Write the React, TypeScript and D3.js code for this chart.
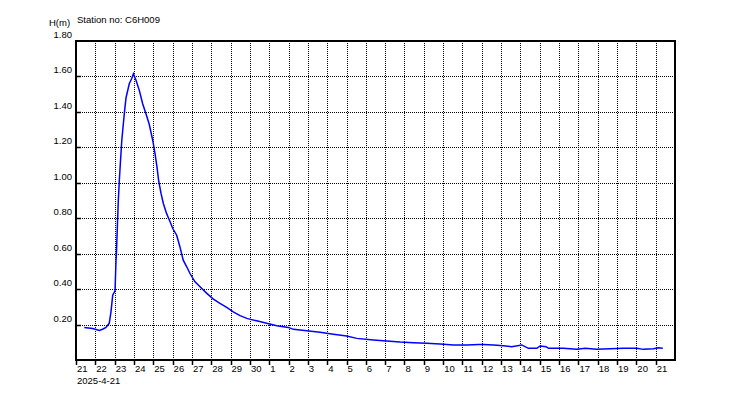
import React from "react";
import * as d3 from "d3";

const stationTitle = "Station no: C6H009";
const yAxisTitle = "H(m)";
const startDateLabel = "2025-4-21";

// days since 2025-04-21 00:00
const dayOffsets = [
  0.43, 0.86, 1.21, 1.4, 1.55, 1.72, 1.81, 1.9, 2.02, 2.07, 2.09, 2.14, 2.19, 2.24, 2.29,
  2.37, 2.5, 2.59, 2.76, 2.88, 2.97, 3.11, 3.28, 3.45, 3.62, 3.79, 3.97, 4.09, 4.19, 4.28,
  4.4, 4.52, 4.69, 4.83, 5.01, 5.21, 5.38, 5.55, 5.73, 5.9, 6.16, 6.42, 6.77, 7.11, 7.45,
  7.8, 8.14, 8.49, 8.84, 9.35, 9.87, 10.39, 10.99, 11.25, 11.94, 12.63, 13.32, 14.01, 14.53,
  15.39, 16.08, 16.77, 17.46, 18.15, 18.84, 19.53, 20.22, 20.86, 21.08, 21.6, 22.12, 22.55,
  23.07, 23.41, 23.85, 24.02, 24.33, 24.45, 25.22, 25.92, 26.35, 26.95, 27.64, 28.33, 29.02,
  29.36, 29.88, 30.14, 30.37,
];
// water level H (m)
const waterLevels = [
  0.184, 0.178, 0.167, 0.175, 0.184, 0.207, 0.272, 0.366, 0.39, 0.56, 0.6, 0.75, 0.9, 1.01, 1.1,
  1.24, 1.39, 1.48, 1.56, 1.587, 1.615, 1.577, 1.52, 1.446, 1.39, 1.33, 1.24, 1.164, 1.09, 1.01,
  0.94, 0.883, 0.826, 0.79, 0.742, 0.704, 0.638, 0.563, 0.526, 0.488, 0.441, 0.413, 0.376, 0.344, 0.319,
  0.297, 0.272, 0.25, 0.235, 0.221, 0.207, 0.193, 0.184, 0.173, 0.165, 0.156, 0.145, 0.135, 0.122,
  0.113, 0.107, 0.101, 0.097, 0.094, 0.09, 0.085, 0.085, 0.088, 0.088, 0.085, 0.081, 0.075,
  0.085, 0.066, 0.066, 0.079, 0.075, 0.066, 0.066, 0.06, 0.066, 0.06, 0.064, 0.066, 0.066,
  0.06, 0.064, 0.069, 0.066,
];

const yTicks = [0.2, 0.4, 0.6, 0.8, 1.0, 1.2, 1.4, 1.6, 1.8];
const startDate = new Date(2025, 3, 21);
const endDate = new Date(2025, 4, 22);

const W = 750;
const H = 400;
const left = 76;
const right = 675;
const top = 41;
const bottom = 360;
const FONT = "'Liberation Sans', Arial, sans-serif";

export default function App() {
  const x = d3.scaleTime().domain([startDate, endDate]).range([left, right]);
  const y = d3.scaleLinear().domain([0, 1.8]).range([bottom, top]);
  const days = d3.timeDay.range(startDate, endDate);
  const fmtDay = d3.timeFormat("%-d");
  const data = dayOffsets.map((d, i) => ({
    t: new Date(startDate.getTime() + d * 86400000),
    v: waterLevels[i],
  }));
  const line = d3
    .line<{ t: Date; v: number }>()
    .x((d) => x(d.t))
    .y((d) => y(d.v))
    .curve(d3.curveLinear);
  const px = (v: number) => Math.round(v) + 0.5;

  return (
    <div style={{ position: "fixed", left: 0, top: 0 }}>
      <svg width={W} height={H} style={{ display: "block", background: "#fff" }}>
        {/* grid */}
        {days.slice(1).map((d, i) => (
          <line
            key={"vg" + i}
            x1={px(x(d))}
            x2={px(x(d))}
            y1={top}
            y2={bottom}
            stroke="#000"
            strokeWidth={1}
            strokeDasharray="1,1"
          />
        ))}
        {yTicks.slice(0, -1).map((t, i) => (
          <line
            key={"hg" + i}
            x1={left}
            x2={right}
            y1={px(y(t))}
            y2={px(y(t))}
            stroke="#000"
            strokeWidth={1}
            strokeDasharray="1,1"
          />
        ))}
        {/* y ticks inward */}
        {yTicks.slice(0, -1).map((t, i) => (
          <line
            key={"yt" + i}
            x1={left}
            x2={left + 5}
            y1={px(y(t))}
            y2={px(y(t))}
            stroke="#000"
            strokeWidth={1.5}
          />
        ))}
        {/* frame */}
        <rect
          x={left}
          y={top}
          width={right - left}
          height={bottom - top}
          fill="none"
          stroke="#000"
          strokeWidth={2}
        />
        {/* x ticks */}
        {days.map((d, i) => (
          <line
            key={"xt" + i}
            x1={px(x(d))}
            x2={px(x(d))}
            y1={bottom}
            y2={bottom + 5}
            stroke="#000"
            strokeWidth={1.5}
          />
        ))}
        {/* data */}
        <path d={line(data) || ""} fill="none" stroke="#0000ff" strokeWidth={1.5} />
        {/* y labels */}
        {yTicks.map((t, i) => (
          <text
            key={"yl" + i}
            x={72}
            y={y(t) - 3}
            textAnchor="end"
            fontFamily={FONT}
            fontSize={9.5}
            fill="#000"
          >
            {t.toFixed(2)}
          </text>
        ))}
        {/* x labels */}
        {days.map((d, i) => (
          <text
            key={"xl" + i}
            x={x(d) + 1}
            y={372}
            fontFamily={FONT}
            fontSize={9.5}
            fill="#000"
          >
            {fmtDay(d)}
          </text>
        ))}
        <text x={77} y={384} fontFamily={FONT} fontSize={9.5} fill="#000">
          {startDateLabel}
        </text>
        <text x={49} y={26} fontFamily={FONT} fontSize={9.5} fill="#000">
          {yAxisTitle}
        </text>
        <text x={77} y={23} fontFamily={FONT} fontSize={9.5} fill="#000">
          {stationTitle}
        </text>
      </svg>
    </div>
  );
}
